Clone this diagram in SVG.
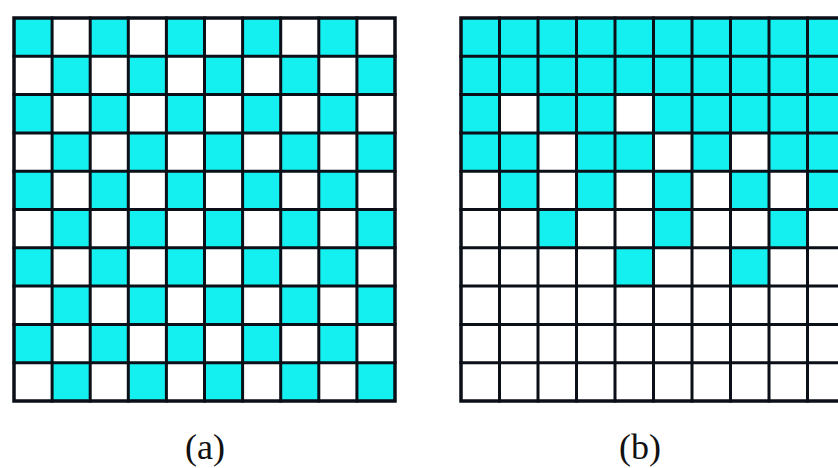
<svg xmlns="http://www.w3.org/2000/svg" width="838" height="468" viewBox="0 0 838 468">
  <style>
    .cy { fill: #14F0F0; }
    .grid { fill: none; stroke: #0b0f17; stroke-width: 3; stroke-linecap: square; }
    .outer { fill: none; stroke: #0b0f17; stroke-width: 3.5; }
    .lbl { font-family: "Liberation Serif", "Times New Roman", serif; font-size: 36px; fill: #111; text-anchor: middle; }
  </style>
  <defs>
    <pattern id="checker" patternUnits="userSpaceOnUse" x="14" y="18" width="76.2" height="76.6">
      <rect x="0" y="0" width="38.1" height="38.3" class="cy"/>
      <rect x="38.1" y="38.3" width="38.1" height="38.3" class="cy"/>
    </pattern>
  </defs>
  <rect width="838" height="468" fill="#ffffff"/>

  <g id="grid-a">
    <rect x="14" y="18" width="381" height="383" fill="url(#checker)"/>
    <path class="grid" d="M52.1 18V401M90.2 18V401M128.3 18V401M166.4 18V401M204.5 18V401M242.6 18V401M280.7 18V401M318.8 18V401M356.9 18V401
      M14 56.3H395M14 94.6H395M14 132.9H395M14 171.2H395M14 209.5H395M14 247.8H395M14 286.1H395M14 324.4H395M14 362.7H395"/>
    <rect class="outer" x="14" y="18" width="381" height="383"/>
  </g>

  <g id="grid-b">
    <rect class="cy" x="461" y="18" width="385" height="76.6"/>
    <rect class="cy" x="461" y="94.6" width="38.5" height="38.3"/>
    <rect class="cy" x="538" y="94.6" width="77" height="38.3"/>
    <rect class="cy" x="653.5" y="94.6" width="192.5" height="38.3"/>
    <rect class="cy" x="461" y="132.9" width="77" height="38.3"/>
    <rect class="cy" x="576.5" y="132.9" width="77" height="38.3"/>
    <rect class="cy" x="692" y="132.9" width="38.5" height="38.3"/>
    <rect class="cy" x="769" y="132.9" width="77" height="38.3"/>
    <rect class="cy" x="499.5" y="171.2" width="38.5" height="38.3"/>
    <rect class="cy" x="576.5" y="171.2" width="38.5" height="38.3"/>
    <rect class="cy" x="653.5" y="171.2" width="38.5" height="38.3"/>
    <rect class="cy" x="730.5" y="171.2" width="38.5" height="38.3"/>
    <rect class="cy" x="807.5" y="171.2" width="38.5" height="38.3"/>
    <rect class="cy" x="538" y="209.5" width="38.5" height="38.3"/>
    <rect class="cy" x="653.5" y="209.5" width="38.5" height="38.3"/>
    <rect class="cy" x="769" y="209.5" width="38.5" height="38.3"/>
    <rect class="cy" x="615" y="247.8" width="38.5" height="38.3"/>
    <rect class="cy" x="730.5" y="247.8" width="38.5" height="38.3"/>
    <path class="grid" d="M499.5 18V401M538 18V401M576.5 18V401M615 18V401M653.5 18V401M692 18V401M730.5 18V401M769 18V401M807.5 18V401
      M461 56.3H846M461 94.6H846M461 132.9H846M461 171.2H846M461 209.5H846M461 247.8H846M461 286.1H846M461 324.4H846M461 362.7H846"/>
    <rect class="outer" x="461" y="18" width="400" height="383"/>
  </g>

  <g id="labels">
    <text class="lbl" x="205" y="459">(a)</text>
    <text class="lbl" x="640" y="459">(b)</text>
  </g>
</svg>
